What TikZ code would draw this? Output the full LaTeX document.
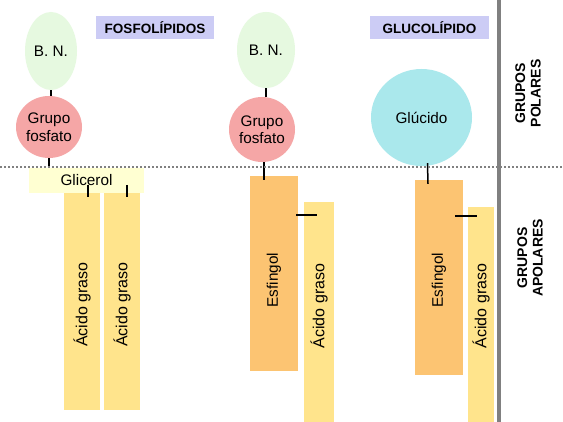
\documentclass[tikz,border=0pt]{standalone}
\usepackage{fontspec}
\setmainfont{Liberation Sans}
\usepackage{tikz}
\usetikzlibrary{shapes.geometric,calc}
\definecolor{verdebn}{RGB}{230,249,224}
\definecolor{rosafos}{RGB}{245,166,166}
\definecolor{cianglu}{RGB}{170,232,236}
\definecolor{lila}{RGB}{204,204,245}
\definecolor{amarglic}{RGB}{255,255,210}
\definecolor{amaracido}{RGB}{255,228,140}
\definecolor{naranjaesf}{RGB}{252,196,114}
\tikzset{
  cabeza/.style={ellipse,inner sep=0pt,font=\fontsize{15.3}{17.5}\selectfont,align=center},
  barra/.style={rectangle,inner sep=0pt,font=\fontsize{15.3}{17.5}\selectfont},
  acido/.style={barra,fill=amaracido,font=\fontsize{16}{18}\selectfont},
  esfing/.style={barra,fill=naranjaesf},
  titulo/.style={fill=lila,inner sep=0pt,minimum height=23pt,font=\bfseries\fontsize{13.5}{15}\selectfont},
  lado/.style={rotate=90,align=center,font=\bfseries\fontsize{14}{15.5}\selectfont},
  enlace/.style={line width=1.5pt,black}
}
\begin{document}
\begin{tikzpicture}[x=1pt,y=-1pt]
\useasboundingbox[fill=white] (0,0) rectangle (563,422);
% fosfolipido con glicerol
\node[titulo,minimum width=118pt] (tfos) at (155,27.5){FOSFOLÍPIDOS};
\node[cabeza,fill=verdebn,minimum width=52pt,minimum height=78pt] (bn1) at (51,51){B. N.};
\node[cabeza,fill=rosafos,minimum width=66pt,minimum height=62pt] (fos1) at (49,127){Grupo\\fosfato};
\node[barra,fill=amarglic,minimum width=115pt,minimum height=25pt] (gli) at (86.5,180.5){Glicerol};
\node[acido,minimum width=36pt,minimum height=217pt] (ac1) at (82,301.5){\rotatebox{90}{Ácido graso\hspace{6pt}}};
\node[acido,minimum width=36pt,minimum height=217pt] (ac2) at (122,301.5){\rotatebox{90}{Ácido graso\hspace{6pt}}};
\draw[enlace] (bn1.south) -- (bn1.south |- fos1.north); \draw[enlace] (fos1.south) -- (fos1.south |- gli.north);
\draw[enlace] ($(ac1.north)+(6,-8)$) -- ($(ac1.north)+(6,4)$); \draw[enlace] ($(ac2.north)+(5,-8)$) -- ($(ac2.north)+(5,4)$);
% esfingolipido
\node[cabeza,fill=verdebn,minimum width=58pt,minimum height=76pt] (bn2) at (266,50){B. N.};
\node[cabeza,fill=rosafos,minimum width=66pt,minimum height=65pt] (fos2) at (262,129.5){Grupo\\fosfato};
\node[esfing,minimum width=48pt,minimum height=195pt] (esf1) at (274,273.5){\rotatebox{90}{Esfingol\hspace{13pt}}};
\node[acido,minimum width=30pt,minimum height=220pt] (ac3) at (319,312){\rotatebox{90}{\hspace{12pt}Ácido graso}};
\draw[enlace] (bn2.south) -- (bn2.south |- fos2.north); \draw[enlace] ($(fos2.south)+(2,0)$) -- ($(fos2.south |- esf1.north)+(2,4)$);
\draw[enlace] ($(esf1.north east)+(-2,39)$) -- ($(ac3.north west)+(13,13)$);
% glucolipido
\node[titulo,minimum width=119pt] (tglu) at (429.5,27.5){GLUCOLÍPIDO};
\node[cabeza,fill=cianglu,minimum width=101pt,minimum height=97pt] (glu) at (421.5,117.5){Glúcido};
\node[esfing,minimum width=48pt,minimum height=195pt] (esf2) at (439,277.5){\rotatebox{90}{Esfingol\hspace{5pt}}};
\node[acido,minimum width=26pt,minimum height=215pt] (ac4) at (481,314.5){\rotatebox{90}{\hspace{17pt}Ácido graso}};
\draw[enlace] ($(glu.south)+(6,-3)$) -- ($(esf2.north)+(-11,4)$);
\draw[enlace] ($(esf2.north east)+(-8,36)$) -- ($(ac4.north west)+(9,9)$);
% separaciones
\draw[gray,line width=2pt,dash pattern=on 2pt off 2pt] (0,167) -- (563,167);
\draw[gray,line width=4pt] (499,0) -- (499,422);
\node[lado] (polar) at (528,93.5){GRUPOS\\POLARES};
\node[lado] (apolar) at (530,258){GRUPOS\\APOLARES};
\end{tikzpicture}
\end{document}
